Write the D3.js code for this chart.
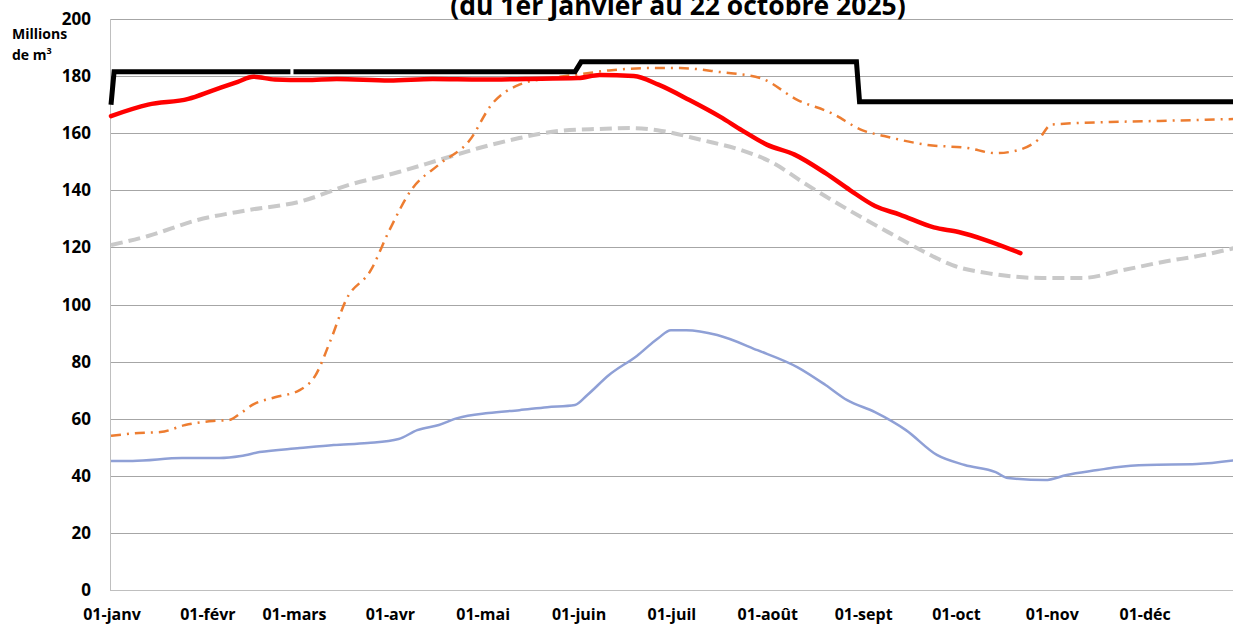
<!DOCTYPE html>
<html>
<head>
<meta charset="utf-8">
<script src="https://cdn.jsdelivr.net/npm/d3@7"></script>
<style>
  body { margin: 0; background: #fff; }
  svg text { font-family: "Open Sans", "Liberation Sans", sans-serif; font-weight: bold; fill: #000; }
</style>
</head>
<body>
<svg id="chart" width="1233" height="624"></svg>
<script>
// x axis tick labels (first of each month)
const monthLabels = ['01-janv', '01-févr', '01-mars', '01-avr', '01-mai', '01-juin',
  '01-juil', '01-août', '01-sept', '01-oct', '01-nov', '01-déc'];
const yTicks = [0, 20, 40, 60, 80, 100, 120, 140, 160, 180, 200];

// black step line (capacité), one missing day around 1 March
const blackDates = ['2025-01-01', '2025-01-02', '2025-02-28', '2025-02-28', '2025-03-01', '2025-05-31',
  '2025-06-02', '2025-08-30', '2025-08-31', '2025-12-31'];
const blackValues = [170, 181.5, 181.5, null, 181.5, 181.5, 185, 185, 171, 171];

// red line (2025)
const redDates = ['2025-01-01', '2025-01-13', '2025-01-26', '2025-02-03', '2025-02-11', '2025-02-16',
  '2025-02-23', '2025-03-05', '2025-03-15', '2025-04-01', '2025-04-15', '2025-05-01', '2025-05-15',
  '2025-06-01', '2025-06-08', '2025-06-19', '2025-06-27', '2025-07-07', '2025-07-17', '2025-07-24',
  '2025-08-01', '2025-08-10', '2025-08-20', '2025-08-28', '2025-09-05', '2025-09-13', '2025-09-24',
  '2025-10-02', '2025-10-11', '2025-10-22'];
const redValues = [166, 170, 172, 175, 178, 179.8, 178.8, 178.6, 179, 178.5, 179, 178.8, 179,
  179.3, 180.4, 180, 177, 171.6, 165.7, 161, 156, 152.5, 146, 140, 134.5, 131.5, 127,
  125.4, 122.5, 118];

// orange dash-dot line
const orangeDates = ['2025-01-01', '2025-01-10', '2025-01-17', '2025-01-25', '2025-02-03', '2025-02-08',
  '2025-02-12', '2025-02-16', '2025-02-23', '2025-03-03', '2025-03-08', '2025-03-13', '2025-03-18',
  '2025-03-26', '2025-04-01', '2025-04-08', '2025-04-17', '2025-04-27', '2025-05-04', '2025-05-13',
  '2025-05-23', '2025-06-02', '2025-06-11', '2025-06-24', '2025-07-04', '2025-07-17', '2025-07-30',
  '2025-08-11', '2025-08-22', '2025-09-01', '2025-09-08', '2025-09-22', '2025-10-05', '2025-10-14',
  '2025-10-21', '2025-10-28', '2025-11-01', '2025-11-20', '2025-12-06', '2025-12-31'];
const orangeValues = [54, 55, 55.3, 57.8, 59.2, 59.5, 62, 65, 67.5, 70, 75, 87.5, 101.6,
  112, 126, 140, 149, 157.6, 170, 177, 179.3, 180.7, 182, 182.8, 182.8, 181.4, 179.3,
  171.6, 167, 161, 159, 155.9, 154.8, 153, 154, 158, 163, 163.9, 164.3, 165];

// grey dashed line
const greyDates = ['2025-01-01', '2025-01-13', '2025-01-29', '2025-02-14', '2025-03-03', '2025-03-19',
  '2025-04-04', '2025-04-17', '2025-04-30', '2025-05-13', '2025-05-26', '2025-06-08', '2025-06-18',
  '2025-06-28', '2025-07-11', '2025-07-24', '2025-08-03', '2025-08-13', '2025-08-22', '2025-09-01',
  '2025-09-11', '2025-09-21', '2025-09-30', '2025-10-13', '2025-10-29', '2025-11-11', '2025-11-24',
  '2025-12-07', '2025-12-20', '2025-12-31'];
const greyValues = [120.8, 124, 129.6, 133, 136, 141.9, 146.4, 150.6, 154.8, 158.3, 160.8, 161.5,
  161.8, 160.8, 157.6, 154, 149.6, 142.6, 136.6, 130.3, 124.3, 118.4, 113.8, 110.7, 109.3,
  109.3, 112, 114.9, 117.3, 120];

// blue line
const blueDates = ['2025-01-01', '2025-01-08', '2025-01-24', '2025-02-05', '2025-02-12', '2025-02-18',
  '2025-03-03', '2025-03-14', '2025-03-25', '2025-04-04', '2025-04-10', '2025-04-17', '2025-04-23',
  '2025-05-03', '2025-05-13', '2025-05-22', '2025-05-31', '2025-06-04', '2025-06-11', '2025-06-20',
  '2025-06-27', '2025-07-01', '2025-07-06', '2025-07-16', '2025-07-29', '2025-08-11', '2025-08-20',
  '2025-08-27', '2025-09-05', '2025-09-15', '2025-09-25', '2025-10-04', '2025-10-14', '2025-10-18',
  '2025-10-30', '2025-11-06', '2025-11-16', '2025-11-22', '2025-12-02', '2025-12-18', '2025-12-31'];
const blueValues = [45.2, 45.2, 46.2, 46.2, 46.9, 48.3, 49.7, 50.8, 51.5, 52.9, 56, 57.8, 60.2,
  62, 63, 64, 64.8, 68.3, 75.3, 82, 88.3, 91, 91, 89.3, 84, 78, 71.8, 66.5, 62.3, 56, 47.3,
  43.8, 41.3, 39.2, 38.5, 40.3, 42, 43, 43.8, 44.1, 45.5];

const parse = d3.timeParse('%Y-%m-%d');
function zipSeries(dates, values) {
  return dates.map(function (d, i) { return {date: parse(d), value: values[i]}; });
}

const svg = d3.select('#chart');
const mLeft = 111, mRight = 1240, mTop = 19, mBottom = 590;

const xs = d3.scaleTime()
  .domain([parse('2025-01-01'), parse('2026-01-01')])
  .range([mLeft, mRight]);
const ys = d3.scaleLinear().domain([0, 200]).range([mBottom, mTop]);

// gridlines
svg.append('g').selectAll('line').data(yTicks).enter().append('line')
  .attr('x1', mLeft - 1).attr('x2', 1233)
  .attr('y1', function (d) { return Math.round(ys(d)) + 0.5; })
  .attr('y2', function (d) { return Math.round(ys(d)) + 0.5; })
  .attr('stroke', function (d) { return d === 0 ? '#bfbfbf' : '#a6a6a6'; })
  .attr('stroke-width', 1);

svg.append('line')
  .attr('x1', mLeft - 0.5).attr('x2', mLeft - 0.5)
  .attr('y1', mTop).attr('y2', mBottom)
  .attr('stroke', '#bfbfbf');

// y axis labels
svg.append('g').selectAll('text').data(yTicks).enter().append('text')
  .attr('x', 91)
  .attr('y', function (d) { return ys(d) + 6; })
  .attr('text-anchor', 'end')
  .attr('font-size', 17)
  .text(function (d) { return d; });

// x axis labels
const monthStarts = d3.timeMonth.range(parse('2025-01-01'), parse('2026-01-01'));
svg.append('g').selectAll('text').data(monthStarts).enter().append('text')
  .attr('x', function (d) { return xs(d) + 1; })
  .attr('y', 620)
  .attr('text-anchor', 'middle')
  .attr('font-size', 16)
  .text(function (d, i) { return monthLabels[i]; });

// unit label
svg.append('text').attr('x', 12).attr('y', 39).attr('font-size', 14).text('Millions');
const unit = svg.append('text').attr('x', 12).attr('y', 60).attr('font-size', 14);
unit.append('tspan').text('de m');
unit.append('tspan').attr('font-size', 9).attr('dy', -6).text('3');

// title (partly cut off at top, as in the source)
svg.append('text')
  .attr('x', 678).attr('y', 15)
  .attr('text-anchor', 'middle')
  .attr('font-size', 26.5)
  .text('(du 1er janvier au 22 octobre 2025)');

const line = d3.line()
  .defined(function (d) { return d.value !== null; })
  .x(function (d) { return xs(d.date); })
  .y(function (d) { return ys(d.value); });

const smooth = d3.line()
  .x(function (d) { return xs(d.date); })
  .y(function (d) { return ys(d.value); })
  .curve(d3.curveMonotoneX);

const plot = svg.append('g');

plot.append('path').datum(zipSeries(greyDates, greyValues))
  .attr('d', smooth).attr('fill', 'none')
  .attr('stroke', '#c9c9c9').attr('stroke-width', 4)
  .attr('stroke-dasharray', '12,6');

plot.append('path').datum(zipSeries(orangeDates, orangeValues))
  .attr('d', smooth).attr('fill', 'none')
  .attr('stroke', '#ed7d31').attr('stroke-width', 2.5)
  .attr('stroke-dasharray', '10,6,2,6');

plot.append('path').datum(zipSeries(blueDates, blueValues))
  .attr('d', smooth).attr('fill', 'none')
  .attr('stroke', '#8fa0d6').attr('stroke-width', 2.5);

plot.append('path').datum(zipSeries(redDates, redValues))
  .attr('d', smooth).attr('fill', 'none')
  .attr('stroke', '#ff0000').attr('stroke-width', 4.5)
  .attr('stroke-linejoin', 'round').attr('stroke-linecap', 'round');

plot.append('path').datum(zipSeries(blackDates, blackValues))
  .attr('d', line).attr('fill', 'none')
  .attr('stroke', '#000').attr('stroke-width', 5);
</script>
</body>
</html>
